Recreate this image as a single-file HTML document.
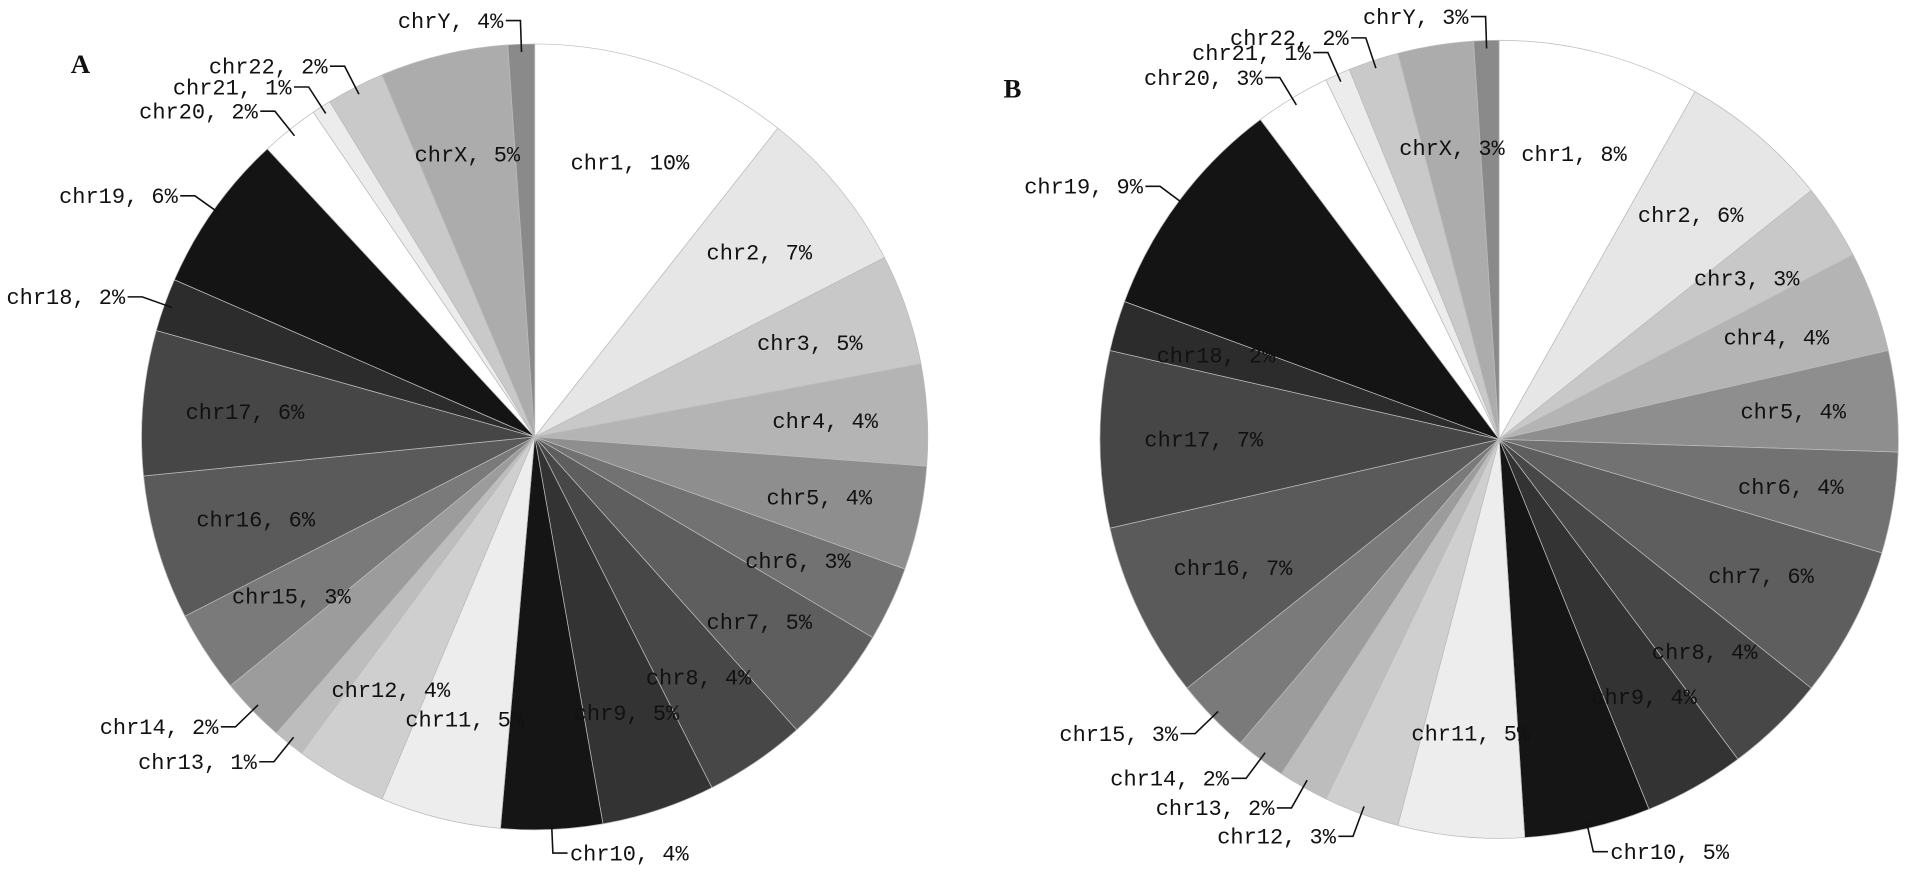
<!DOCTYPE html>
<html><head><meta charset="utf-8"><style>
html,body{margin:0;padding:0;background:#fff;}
svg{display:block;}
text{font-family:"Liberation Mono",monospace;font-size:18px;fill:#111;}
</style></head><body>
<svg id="chart" width="1913" height="875" viewBox="0 0 1567 717" preserveAspectRatio="none" xmlns="http://www.w3.org/2000/svg">
<text x="58" y="60" style="font-family:'Liberation Serif',serif;font-weight:bold;font-size:22px">A</text>
<text x="822" y="80" style="font-family:'Liberation Serif',serif;font-weight:bold;font-size:22px">B</text>
</svg>
<script>
const categories = ["chr1","chr2","chr3","chr4","chr5","chr6","chr7","chr8","chr9","chr10","chr11","chr12","chr13","chr14","chr15","chr16","chr17","chr18","chr19","chr20","chr21","chr22","chrX","chrY"];
const valuesA = [10.7,6.9,4.6,4.2,4.3,3.1,4.9,4.2,4.7,4.2,5.0,3.8,1.3,2.7,3.4,6.0,6.0,2.2,6.6,2.4,0.8,2.4,5.3,1.1];
const labelsA = ["10%","7%","5%","4%","4%","3%","5%","4%","5%","4%","5%","4%","1%","2%","3%","6%","6%","2%","6%","2%","1%","2%","5%","4%"];
const valuesB = [8,6,3,4,4,4,6,4,4,5,5,3,2,2,3,7,7,2,9,3,1,2,3,1];
const labelsB = ["8%","6%","3%","4%","4%","4%","6%","4%","4%","5%","5%","3%","2%","2%","3%","7%","7%","2%","9%","3%","1%","2%","3%","3%"];
const outsideA = ["chr10","chr13","chr14","chr18","chr19","chr20","chr21","chr22","chrY"];
const outsideB = ["chr10","chr12","chr13","chr14","chr15","chr19","chr20","chr21","chr22","chrY"];
const palette = ["#ffffff","#e6e6e6","#c8c8c8","#b4b4b4","#8e8e8e","#727272","#5e5e5e","#474747","#333333","#151515","#ededed","#cfcfcf","#bdbdbd","#9c9c9c","#7a7a7a","#5a5a5a","#464646","#2c2c2c","#141414","#ffffff","#ececec","#c9c9c9","#acacac","#8a8a8a"];
const NS="http://www.w3.org/2000/svg";
const svg=document.getElementById('chart');
function mk(t,a){const e=document.createElementNS(NS,t);for(const k in a)e.setAttribute(k,a[k]);return e;}
function drawPie(cx,cy,r,vals,labs,outside,tag){
  const total=vals.reduce((a,b)=>a+b,0);
  const g=mk('g',{});
  
  
  svg.appendChild(g);
  const pt=(ang,rr)=>[cx+rr*Math.sin(ang),cy-rr*Math.cos(ang)];
  let a0=0;
  const mids=[];
  vals.forEach((v,i)=>{
    const a1=a0+v/total*2*Math.PI;
    const p0=pt(a0,r),p1=pt(a1,r);
    const large=(a1-a0)>Math.PI?1:0;
    const p=mk('path',{d:`M${cx},${cy}L${p0[0]},${p0[1]}A${r},${r} 0 ${large} 1 ${p1[0]},${p1[1]}Z`,fill:palette[i],stroke:'#bbb','stroke-width':0.6});
    
    
    g.appendChild(p);
    mids.push((a0+a1)/2);
    a0=a1;
  });
  vals.forEach((v,i)=>{
    const m=mids[i];const txt=categories[i]+", "+labs[i];
    if(outside.includes(categories[i])){
      const s=pt(m,r*0.98),e=pt(m,r*1.06);
      const right=Math.sin(m)>=0;
      const hx=e[0]+(right?12:-12);
      const l=mk('polyline',{points:`${s[0]},${s[1]} ${e[0]},${e[1]} ${hx},${e[1]}`,fill:'none',stroke:'#111','stroke-width':1.3});
      
      
      g.appendChild(l);
      const t=mk('text',{x:right?hx+2:hx-2,y:e[1]+6,'text-anchor':right?'start':'end'});
      t.textContent=txt;
      
      
      g.appendChild(t);
    } else {
      const c=pt(m,r*0.74);
      const t=mk('text',{x:c[0],y:c[1]+6,'text-anchor':'middle'});
      t.textContent=txt;
      
      
      g.appendChild(t);
    }
  });
}
drawPie(438,358,322,valuesA,labelsA,outsideA,'a');
drawPie(1228,360,327,valuesB,labelsB,outsideB,'b');
</script>
</body></html>
